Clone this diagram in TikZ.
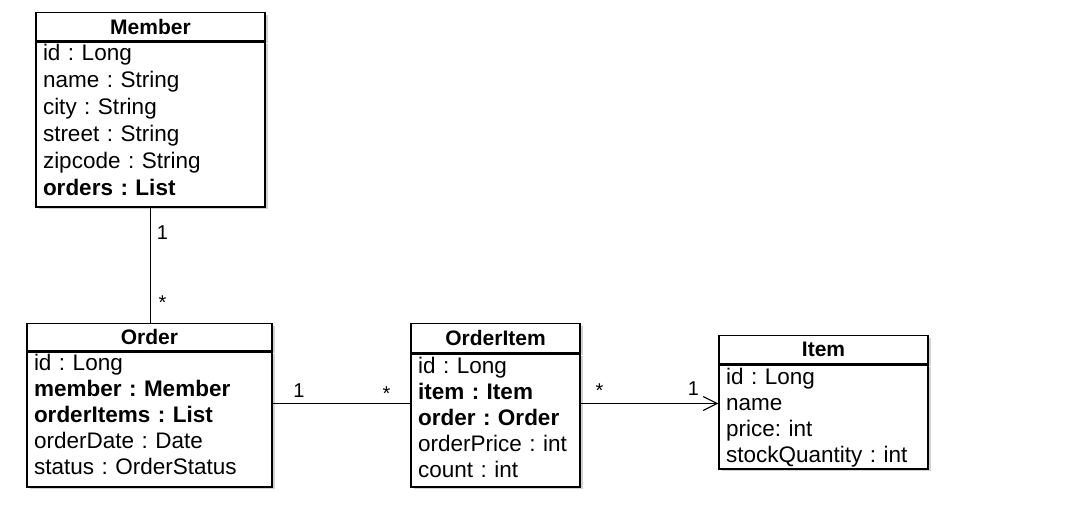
\documentclass[tikz,border=0pt]{standalone}
\usepackage{fontspec}
\setmainfont{Liberation Sans}
\usetikzlibrary{arrows.meta,shadows}
\frenchspacing
\begin{document}
\begin{tikzpicture}[
	x=1pt, y=-1pt,
	classhead/.style={shape=rectangle, draw=black, fill=white, line width=1.3pt, minimum height=28pt, inner sep=0pt, anchor=north, font=\fontsize{21}{25}\selectfont\bfseries, drop shadow={shadow xshift=2.5pt, shadow yshift=-2.5pt, fill=black!35}},
	classbody/.style={shape=rectangle, draw=black, fill=white, line width=1.3pt, inner xsep=7pt, inner ysep=0pt, anchor=north, align=left, font=\fontsize{22.5}{26}\selectfont, drop shadow={shadow xshift=2.5pt, shadow yshift=-2.5pt, fill=black!35}},
	assoc/.style={line width=1.1pt},
	mult/.style={anchor=base, inner sep=0pt, font=\fontsize{20}{24}\selectfont},
]
\useasboundingbox (0,0) rectangle (1065,513);

\node[classhead, minimum width=229pt] (memberhead) at (150.5,12) {Member};
\node[classbody, text width=215pt, text height=19pt, text depth=146pt, font=\fontsize{22.5}{27}\selectfont] (memberbody) at (memberhead.south) {id : Long\\ name : String\\ city : String\\ street : String\\ zipcode : String\\ \textbf{orders : List}};

\node[classhead, minimum width=245pt, minimum height=27pt] (orderhead) at (149.5,323) {Order};
\node[classbody, text width=231pt, text height=19pt, text depth=116pt] (orderbody) at (orderhead.south) {id : Long\\ \textbf{member : Member}\\ \textbf{orderItems : List}\\ orderDate : Date\\ status : OrderStatus};

\node[classhead, minimum width=169pt, minimum height=29pt] (oitemhead) at (495.5,323) {OrderItem};
\node[classbody, text width=155pt, text height=20pt, text depth=113pt] (oitembody) at (oitemhead.south) {id : Long\\ \textbf{item : Item}\\ \textbf{order : Order}\\ orderPrice : int\\ count : int};

\node[classhead, minimum width=209pt] (itemhead) at (823.5,335) {Item};
\node[classbody, text width=195pt, text height=20pt, text depth=84pt] (itembody) at (itemhead.south) {id : Long\\ name\\ price: int\\ stockQuantity : int};

\coordinate (rowline) at (0,403.5);
\draw[assoc] (memberbody.south) -- (memberbody.south |- orderhead.north);
\draw[assoc] (orderbody.east |- rowline) -- (oitembody.west |- rowline);
\draw[assoc, -{Straight Barb[length=14pt, width=14pt, line width=1.1pt]}] (oitembody.east |- rowline) -- (itembody.west |- rowline);

\node[mult] (memberone) at (162.5,239) {1};
\node[mult] (ordermany) at (162.5,309) {*};
\node[mult] (orderone) at (299,397) {1};
\node[mult] (oitemmany) at (386.5,400) {*};
\node[mult] (oitemmany2) at (599.5,397) {*};
\node[mult] (itemone) at (693.5,395) {1};
\end{tikzpicture}
\end{document}
